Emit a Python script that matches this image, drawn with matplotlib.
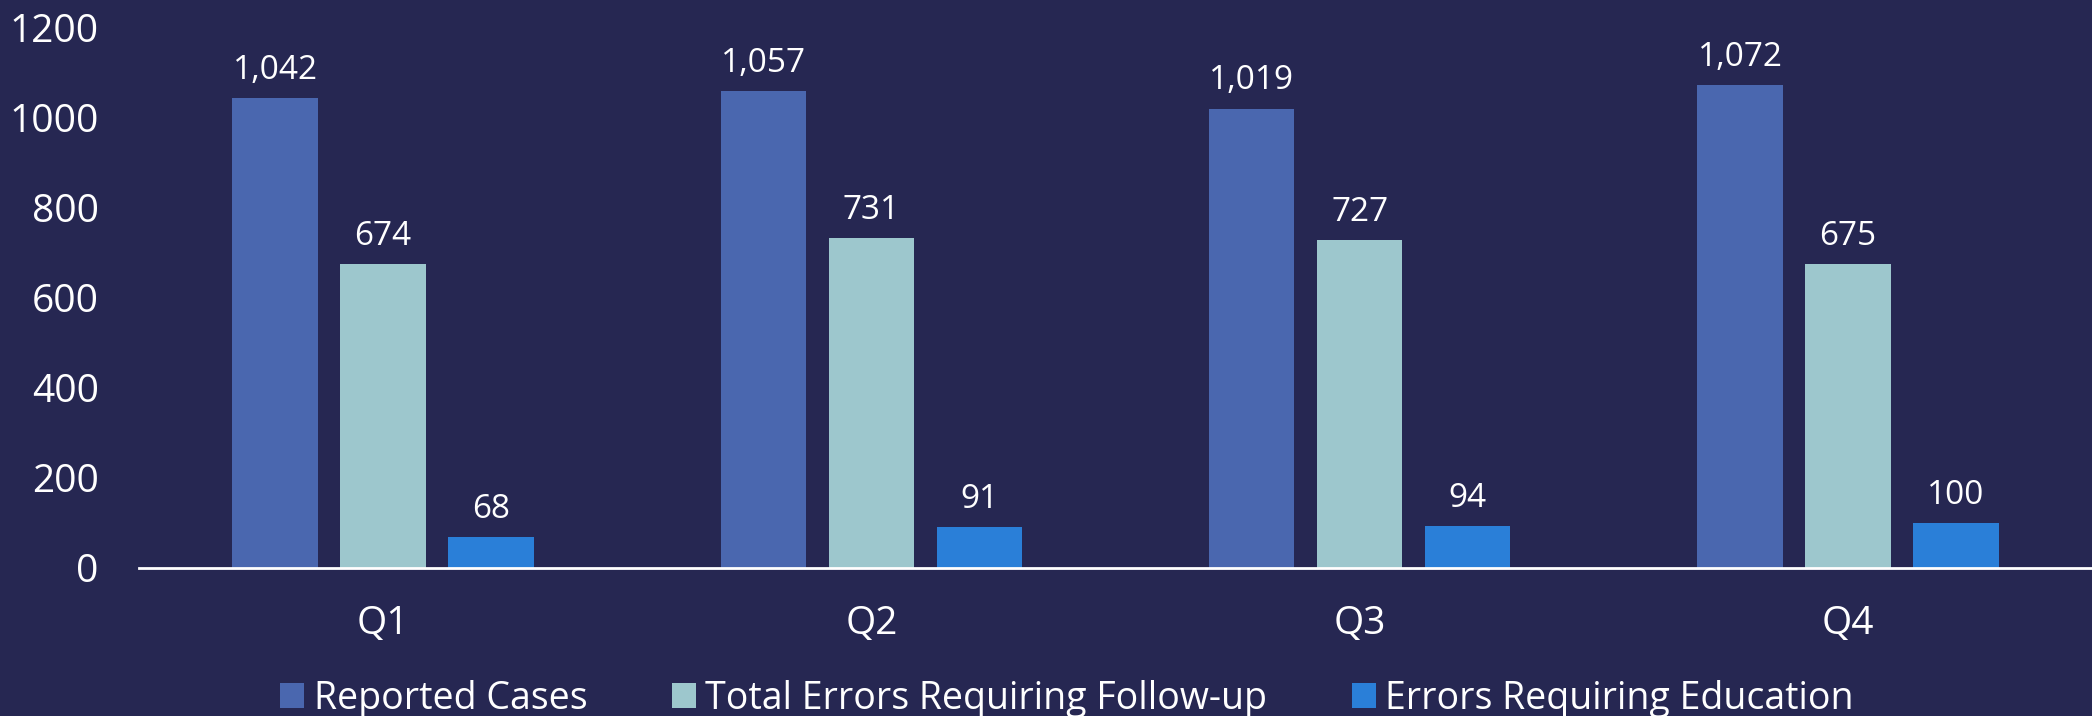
import matplotlib
matplotlib.use("Agg")
import matplotlib.pyplot as plt
import numpy as np

categories = ["Q1", "Q2", "Q3", "Q4"]
series_names = ["Reported Cases", "Total Errors Requiring Follow-up", "Errors Requiring Education"]
reported = [1042, 1057, 1019, 1072]
followup = [674, 731, 727, 675]
education = [68, 91, 94, 100]
yticks = [0, 200, 400, 600, 800, 1000, 1200]

colors = ["#4A67AF", "#9DC7CD", "#2A7FD8"]
bg = "#262752"

plt.rcParams['font.family'] = ['Open Sans', 'DejaVu Sans']

fig = plt.figure(figsize=(20.92, 7.16), dpi=100, facecolor=bg)
ax = fig.add_axes([139/2092, 1 - 568/716, 1 - 139/2092, (568 - 27)/716])
ax.set_facecolor(bg)

x = np.arange(len(categories))
width = 0.175
offset = 0.221
for i, (vals, name) in enumerate(zip([reported, followup, education], series_names)):
    bars = ax.bar(x + (i - 1) * offset, vals, width, color=colors[i], label=name, zorder=2)
    for b, v in zip(bars, vals):
        ax.annotate(f"{v:,}", (b.get_x() + b.get_width() / 2, v),
                    xytext=(0, 8), textcoords="offset points",
                    ha="center", va="bottom", color="white", fontsize=24)

ax.set_xlim(-0.5, 3.5)
ax.set_ylim(0, 1200)
ax.set_yticks(yticks)
ax.set_yticklabels([str(t) for t in yticks])
ax.set_xticks(x)
ax.set_xticklabels(categories)
ax.tick_params(axis='y', length=0, labelsize=28, labelcolor='white', pad=29)
ax.tick_params(axis='x', length=0, labelsize=28, labelcolor='white', pad=27)
for s in ["top", "right", "left"]:
    ax.spines[s].set_visible(False)
ax.spines["bottom"].set_color("white")
ax.spines["bottom"].set_linewidth(2)
ax.spines["bottom"].set_zorder(3)

leg = fig.legend(loc="lower center", bbox_to_anchor=(0.510, -0.05), ncol=3, frameon=False,
                 fontsize=27, labelcolor="white", handlelength=0.65, handleheight=0.65,
                 handletextpad=0.25, columnspacing=2.25)

fig.savefig("out.png", dpi=100, facecolor=bg)
